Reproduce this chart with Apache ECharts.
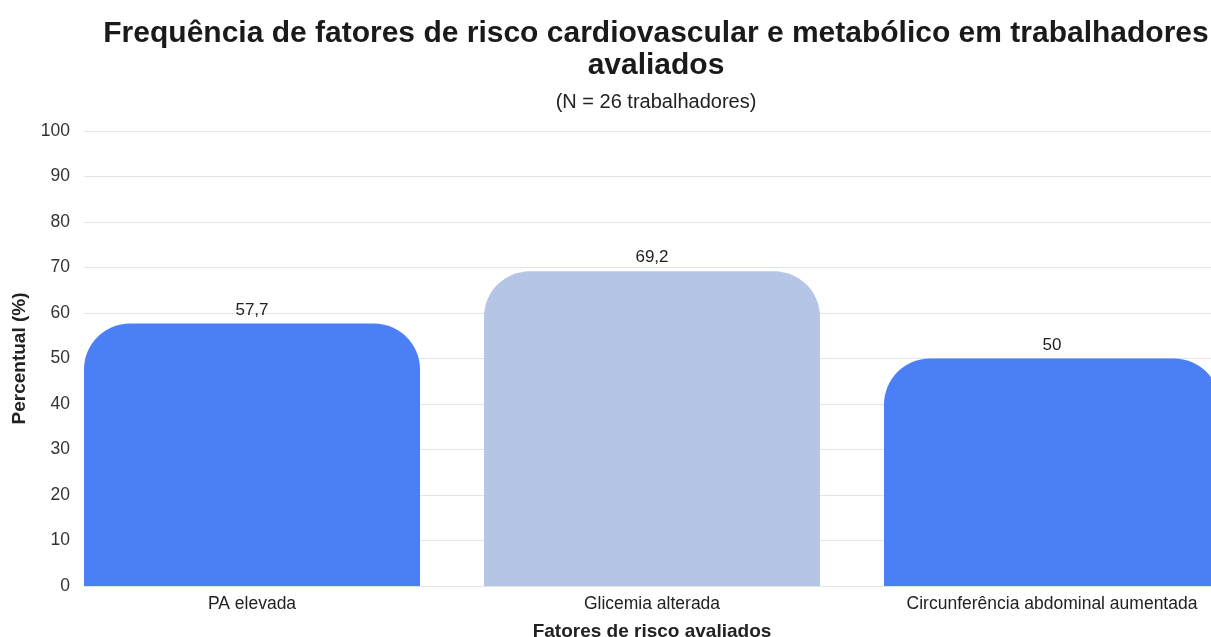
<!DOCTYPE html>
<html><head><meta charset="utf-8">
<script src="https://cdn.jsdelivr.net/npm/echarts@6/dist/echarts.min.js"></script>
<style>html,body{margin:0;padding:0;background:#fff}#c{width:1211px;height:637px}</style>
</head><body><div id="c"></div>
<script>
const categories = ['PA elevada', 'Glicemia alterada', 'Circunferência abdominal aumentada'];
const values = [57.7, 69.2, 50];
const barColors = ['#4a7ff5', '#b4c5e5', '#4a7ff5'];
const titleText = 'Frequência de fatores de risco cardiovascular e metabólico em trabalhadores\navaliados';
const subtitleText = '(N = 26 trabalhadores)';
const yName = 'Percentual (%)';
const xName = 'Fatores de risco avaliados';

const font = 'Liberation Sans, Arial, sans-serif';
const chart = echarts.init(document.getElementById('c'), null, {renderer: 'canvas'});
chart.setOption({
  backgroundColor: '#fff',
  animation: false,
  title: [
    {text: titleText, left: 651, top: 13, textAlign: 'center',
     textStyle: {fontFamily: font, fontSize: 30, fontWeight: 'bold', color: '#1a1a1a', lineHeight: 32}},
    {text: subtitleText, left: 651, top: 87, textAlign: 'center',
     textStyle: {fontFamily: font, fontSize: 20, fontWeight: 'normal', color: '#222'}}
  ],
  grid: [
    {left: 52, right: -41, top: 131, bottom: 51, outerBoundsMode: 'none', containLabel: false},
    {left: 84, right: 0, top: 131, bottom: 51, outerBoundsMode: 'none', containLabel: false}
  ],
  xAxis: [
    {type: 'category', data: categories, gridIndex: 0,
     axisLine: {show: false}, axisTick: {show: false},
     axisLabel: {fontFamily: font, fontSize: 17.5, color: '#222', margin: 9},
     name: xName, nameLocation: 'middle', nameGap: 36,
     nameTextStyle: {fontFamily: font, fontSize: 19, fontWeight: 'bold', color: '#222'}},
    {type: 'value', gridIndex: 1, show: false, min: 0, max: 1}
  ],
  yAxis: [
    {type: 'value', gridIndex: 0, min: 0, max: 100, interval: 10, show: false, splitLine: {show: false}},
    {type: 'value', gridIndex: 1, min: 0, max: 100, interval: 10,
     axisLine: {show: false}, axisTick: {show: false},
     axisLabel: {fontFamily: font, fontSize: 17.5, color: '#333', margin: 14},
     splitLine: {lineStyle: {color: '#e3e3e3', width: 1}},
     name: yName, nameLocation: 'middle', nameGap: 55, nameRotate: 90,
     nameTextStyle: {fontFamily: font, fontSize: 19, fontWeight: 'bold', color: '#222'}}
  ],
  series: [{
    type: 'bar', xAxisIndex: 0, yAxisIndex: 0,
    data: values.map((v, i) => ({value: v, itemStyle: {color: barColors[i]}})),
    barWidth: '84%',
    itemStyle: {borderRadius: [46, 46, 0, 0]},
    label: {show: true, position: 'top', distance: 5, fontFamily: font, fontSize: 17, color: '#222',
      formatter: p => String(p.value).replace('.', ',')}
  }]
});
</script></body></html>
